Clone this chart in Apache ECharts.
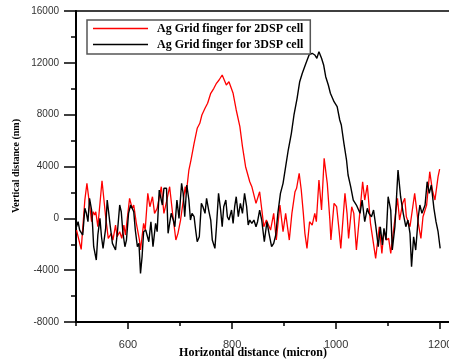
<!DOCTYPE html>
<html>
<head>
<meta charset="utf-8">
<script src="https://cdn.jsdelivr.net/npm/echarts@6/dist/echarts.min.js"></script>
<style>html,body{margin:0;padding:0;background:#fff}#c{width:449px;height:361px}</style>
</head>
<body>
<div id="c"></div>
<script>
var seriesNames = ['Ag Grid finger for 2DSP cell', 'Ag Grid finger for 3DSP cell'];
var xLabelValues = [600, 800, 1000, 1200];
var xMinorTicks = [500, 600, 700, 800, 900, 1000, 1100, 1200];
var yTicks = [-8000, -4000, 0, 4000, 8000, 12000, 16000];

var redX = [501,510,517,521,528,530,533,536,538,542,550,557,562,565,568,571,576,579,584,588,592,595,603,608,611,616,622,624,630,633,638,642,647,651,656,664,669,674,680,686,692,696,701,705,710,712,717,721,727,733,738,742,748,753,759,765,770,775,781,784,789,794,797,802,808,815,820,826,834,838,846,848,853,858,861,866,869,874,880,885,892,898,903,910,915,921,924,929,933,937,940,944,949,954,959,962,967,972,977,983,988,990,996,1001,1005,1009,1017,1021,1024,1030,1034,1039,1051,1055,1060,1066,1076,1083,1088,1092,1097,1101,1105,1112,1118,1122,1128,1132,1135,1142,1151,1158,1163,1167,1174,1180,1185,1190,1196,1199];
var redY = [-903,-2393,1413,2702,409,-262,510,255,510,-648,2903,124,-1544,-1675,-1158,-1675,-517,-1420,-1034,-1544,-517,-1289,1544,772,1027,-386,-1675,-2447,-386,-903,1930,896,1668,386,772,2440,386,1282,2440,255,-1675,-1158,-131,1027,2440,1930,3729,4501,5790,6948,7334,7975,8492,8878,9650,10036,10422,10677,11063,11194,10291,10546,10677,9650,8361,7072,5528,3984,2826,2440,1158,1027,2054,386,-648,-131,-262,-903,386,-1675,1027,-1034,386,-1675,386,2054,2316,3474,2185,386,-1158,-2316,-262,-517,386,-262,2957,641,4632,2702,-131,-1675,1158,896,-648,-2316,1930,386,-1544,896,386,-2447,2826,1413,2571,-363,-3088,-648,-2702,-903,-1675,-1544,-2702,-386,1544,-131,1158,1544,124,-648,1930,-386,-1544,124,1027,3598,2185,1413,3212,3806];

var blackX = [501,504,507,510,513,517,520,523,526,530,532,534,537,539,542,546,549,552,557,560,563,566,570,573,576,580,584,587,590,594,597,601,605,608,611,614,618,621,624,627,630,634,637,640,644,648,653,656,660,663,666,669,674,677,680,683,687,690,694,698,703,706,709,713,717,720,723,727,730,733,737,741,744,748,751,755,759,762,767,770,774,778,781,784,788,791,794,799,802,805,808,812,816,820,824,828,831,834,838,842,846,849,853,857,862,867,871,876,880,884,888,893,898,903,908,914,919,925,930,935,942,948,954,959,963,967,972,976,980,985,989,996,1002,1007,1010,1015,1020,1023,1028,1033,1039,1046,1050,1055,1060,1063,1068,1072,1076,1081,1085,1089,1092,1096,1100,1105,1108,1113,1119,1124,1129,1134,1138,1142,1145,1149,1153,1158,1161,1165,1171,1175,1179,1183,1188,1192,1196,1200];
var blackY = [-648,-262,-903,-772,-1289,772,386,-262,1544,641,-648,-2192,-2061,-3219,-1289,0,-1420,-2316,-772,1413,1282,-648,-1930,-1806,-2447,-903,1027,510,-1034,-2192,-1675,386,1027,772,510,-903,-2192,-1930,-4246,-2964,-1034,-903,-1034,-1806,-262,-2192,-386,-1034,2185,2316,1027,2316,2316,-1158,-386,386,-131,-648,1413,0,2702,1930,124,2571,1413,-131,386,124,-903,-1806,-1420,1158,896,386,1544,641,-131,-1675,-2316,-648,1930,641,-648,896,1413,124,-131,641,-386,896,1668,124,1158,386,1930,896,-517,-131,-386,-131,-648,-262,641,-131,-1806,-262,-1158,-2192,-1930,-1289,386,1930,2702,3984,5273,6562,7975,9264,10546,11194,11966,12607,12738,12607,12352,12862,12352,11835,10932,10291,9650,9002,8616,7589,7203,5790,4501,3343,2440,1413,1027,386,1413,-262,772,386,124,641,-517,-2192,-648,-2061,-772,-1675,1668,641,-2447,-648,3729,1668,386,-648,-131,-1158,-3736,-1420,-2447,124,1027,386,1027,2826,1930,2571,772,-262,-1034,-2316];

function zip(xs, ys) { return xs.map(function (x, i) { return [x, ys[i]]; }); }
function plain(v) { return String(v); }

var chart = echarts.init(document.getElementById('c'), null, { renderer: 'canvas' });
var serif = 'Liberation Serif';
var sans = 'Liberation Sans';
var X_MIN = 500, X_MAX = 1217;

chart.setOption({
  animation: false,
  backgroundColor: '#fff',
  grid: { left: 76, top: 11, bottom: 39, right: 0, outerBoundsMode: 'none', containLabel: false },
  legend: {
    orient: 'vertical', left: 87, top: 20,
    icon: 'rect',
    itemWidth: 55, itemHeight: 1.5, itemGap: 3,
    padding: [2, 7, 3, 6],
    borderColor: '#555', borderWidth: 1.5, backgroundColor: '#fff',
    textStyle: { fontFamily: serif, fontWeight: 'bold', fontSize: 12, lineHeight: 13, color: '#000', padding: [0, 0, 0, 4] },
    data: seriesNames
  },
  xAxis: [{
    type: 'value', min: X_MIN, max: X_MAX, position: 'bottom',
    axisLine: { show: true, onZero: false, lineStyle: { color: '#000', width: 2 } },
    axisTick: { show: true, customValues: xMinorTicks, length: 4, lineStyle: { color: '#000', width: 1.5 } },
    axisLabel: { show: true, customValues: xLabelValues, formatter: plain, margin: 17, fontFamily: sans, fontSize: 11, color: '#333', hideOverlap: false },
    splitLine: { show: false }
  }, {
    type: 'value', min: X_MIN, max: X_MAX, position: 'bottom',
    axisLine: { show: false, onZero: false },
    axisTick: { show: true, customValues: xLabelValues, length: 7, lineStyle: { color: '#000', width: 1.5 } },
    axisLabel: { show: false },
    splitLine: { show: false }
  }, {
    type: 'value', min: X_MIN, max: X_MAX, position: 'top',
    axisLine: { show: true, onZero: false, lineStyle: { color: '#000', width: 1.5 } },
    axisTick: { show: false },
    axisLabel: { show: false },
    splitLine: { show: false }
  }],
  yAxis: {
    type: 'value', min: -8000, max: 16000, interval: 4000,
    axisLine: { show: true, onZero: false, lineStyle: { color: '#000', width: 2 } },
    axisTick: { show: true, length: 12, lineStyle: { color: '#000', width: 1.5 } },
    minorTick: { show: true, splitNumber: 2, length: 5, lineStyle: { color: '#000', width: 1.5 } },
    axisLabel: { show: true, customValues: yTicks, formatter: plain, margin: 17, fontFamily: sans, fontSize: 10, color: '#333' },
    splitLine: { show: false }
  },
  series: [{
    name: seriesNames[0], type: 'line', symbol: 'none', data: zip(redX, redY),
    lineStyle: { color: '#ff0000', width: 1.3 }, itemStyle: { color: '#ff0000' }
  }, {
    name: seriesNames[1], type: 'line', symbol: 'none', data: zip(blackX, blackY),
    lineStyle: { color: '#000', width: 1.4 }, itemStyle: { color: '#000' }
  }],
  graphic: [{
    type: 'text', x: 16, y: 166, rotation: Math.PI / 2,
    style: { text: 'Vertical distance (nm)', fontFamily: serif, fontWeight: 'bold', fontSize: 10, fill: '#000', align: 'center', verticalAlign: 'middle' }
  }, {
    type: 'text', x: 253, y: 353,
    style: { text: 'Horizontal distance (micron)', fontFamily: serif, fontWeight: 'bold', fontSize: 12, fill: '#000', align: 'center', verticalAlign: 'middle' }
  }]
});
</script>
</body>
</html>
